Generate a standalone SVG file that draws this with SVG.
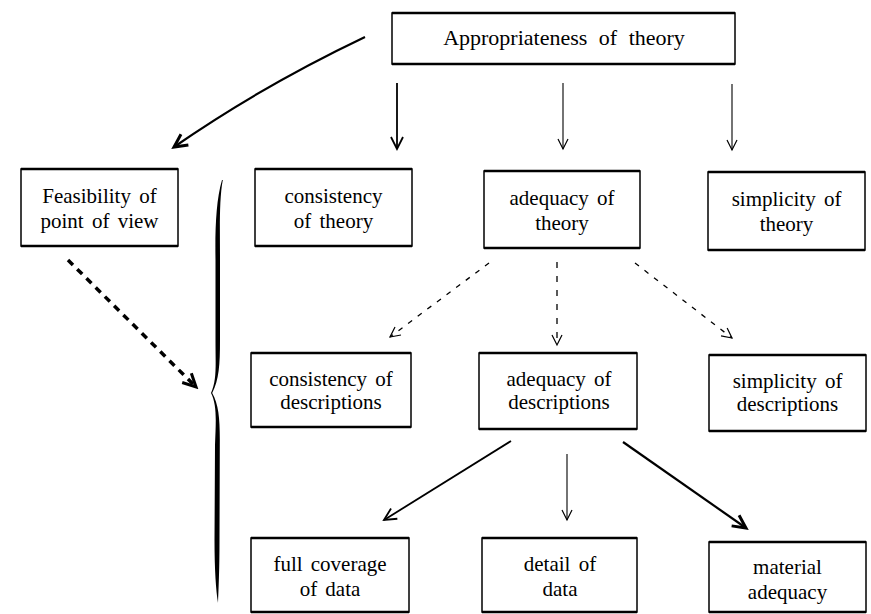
<svg xmlns="http://www.w3.org/2000/svg" width="871" height="614" viewBox="0 0 871 614">
<style>
  .box { fill: #fff; stroke: #000; stroke-width: 1.5; }
  .tb { fill: none; stroke: #000; stroke-width: 2.6; }
  .lbl { font-family: "Liberation Serif", "Tinos", "Noto Serif", "DejaVu Serif", "FreeSerif", "Nimbus Roman", "TeX Gyre Termes", "Times New Roman", Times, serif; font-size: 21px; fill: #000; text-anchor: middle; word-spacing: 3px; }
  .title { font-size: 22px; word-spacing: 6px; }
  .con { fill: none; stroke: #000; }
</style>
<defs>
  <marker id="vThin" viewBox="0 0 14 14" refX="12" refY="7" markerWidth="14" markerHeight="14" markerUnits="userSpaceOnUse" orient="auto">
    <path d="M2,2 L12,7 L2,12" fill="none" stroke="#000" stroke-width="1.2"/>
  </marker>
  <marker id="vMed" viewBox="0 0 16 16" refX="14" refY="8" markerWidth="16" markerHeight="16" markerUnits="userSpaceOnUse" orient="auto">
    <path d="M2,2 L14,8 L2,14" fill="none" stroke="#000" stroke-width="1.8"/>
  </marker>
  <marker id="vThick" viewBox="0 0 18 18" refX="15" refY="9" markerWidth="18" markerHeight="18" markerUnits="userSpaceOnUse" orient="auto">
    <path d="M2,2.5 L15,9 L2,15.5" fill="none" stroke="#000" stroke-width="3"/>
  </marker>
</defs>

<g id="connectors">
  <path class="con" d="M365,37 Q262,86 174,147" stroke-width="2.2" marker-end="url(#vThick)"/>
  <line class="con" x1="397" y1="83" x2="397" y2="149" stroke-width="1.8" marker-end="url(#vMed)"/>
  <line class="con" x1="563" y1="83" x2="563" y2="149" stroke-width="1.1" marker-end="url(#vThin)"/>
  <line class="con" x1="732" y1="84" x2="732" y2="150" stroke-width="1.1" marker-end="url(#vThin)"/>
  <line class="con" x1="68" y1="260" x2="196" y2="387" stroke-width="3.5" stroke-dasharray="7 6" marker-end="url(#vThick)"/>
  <line class="con" x1="489" y1="263" x2="390" y2="337" stroke-width="1.3" stroke-dasharray="5 7" marker-end="url(#vThin)"/>
  <line class="con" x1="557" y1="262" x2="557" y2="345" stroke-width="1.3" stroke-dasharray="6 8" marker-end="url(#vThin)"/>
  <line class="con" x1="635" y1="263" x2="732" y2="338" stroke-width="1.3" stroke-dasharray="5 7" marker-end="url(#vThin)"/>
  <line class="con" x1="511" y1="441" x2="384" y2="520" stroke-width="1.8" marker-end="url(#vMed)"/>
  <line class="con" x1="567" y1="454" x2="567" y2="520" stroke-width="1.1" marker-end="url(#vThin)"/>
  <line class="con" x1="623" y1="442" x2="746" y2="528" stroke-width="2.2" marker-end="url(#vThick)"/>
  <path id="brace" fill="#000" d="M222,180 C216,200 215,230 215.5,260 L215.5,340 C215.5,365 217,380 211,393 C217,405 216,420 215,445 L214.5,540 C214.5,570 216,590 218,603 C218.5,590 219.5,570 219.5,540 L219.8,445 C220,420 219,405 212.2,393 C219,380 220,365 220,340 L220,260 C220,230 219,200 222.8,180 Z"/>
</g>

<g id="n-top">
  <rect class="box" x="392" y="13" width="343" height="51"/>
  <path class="tb" d="M392,13 H735 M392,64 H735"/>
  <text class="lbl title" x="564" y="45">Appropriateness of theory</text>
</g>

<g id="n-feasibility">
  <rect class="box" x="21" y="169" width="157" height="77"/>
  <path class="tb" d="M21,169 H178 M21,246 H178"/>
  <text class="lbl" x="99.5" y="203">Feasibility of</text>
  <text class="lbl" x="99.5" y="228">point of view</text>
</g>
<g id="n-cons-theory">
  <rect class="box" x="255" y="169" width="157" height="77"/>
  <path class="tb" d="M255,169 H412 M255,246 H412"/>
  <text class="lbl" x="333.5" y="203">consistency</text>
  <text class="lbl" x="333.5" y="228">of theory</text>
</g>
<g id="n-adeq-theory">
  <rect class="box" x="484" y="171" width="156" height="77"/>
  <path class="tb" d="M484,171 H640 M484,248 H640"/>
  <text class="lbl" x="562" y="205">adequacy of</text>
  <text class="lbl" x="562" y="230">theory</text>
</g>
<g id="n-simp-theory">
  <rect class="box" x="708" y="172" width="157" height="78"/>
  <path class="tb" d="M708,172 H865 M708,250 H865"/>
  <text class="lbl" x="786.5" y="206">simplicity of</text>
  <text class="lbl" x="786.5" y="231">theory</text>
</g>

<g id="n-cons-desc">
  <rect class="box" x="251" y="353" width="160" height="74"/>
  <path class="tb" d="M251,353 H411 M251,427 H411"/>
  <text class="lbl" x="331" y="386">consistency of</text>
  <text class="lbl" x="331" y="409">descriptions</text>
</g>
<g id="n-adeq-desc">
  <rect class="box" x="479" y="353" width="158" height="76"/>
  <path class="tb" d="M479,353 H637 M479,429 H637"/>
  <text class="lbl" x="559" y="386">adequacy of</text>
  <text class="lbl" x="559" y="409">descriptions</text>
</g>
<g id="n-simp-desc">
  <rect class="box" x="709" y="355" width="157" height="76"/>
  <path class="tb" d="M709,355 H866 M709,431 H866"/>
  <text class="lbl" x="787.5" y="388">simplicity of</text>
  <text class="lbl" x="787.5" y="411">descriptions</text>
</g>

<g id="n-coverage">
  <rect class="box" x="251" y="538" width="158" height="74"/>
  <path class="tb" d="M251,538 H409 M251,612 H409"/>
  <text class="lbl" x="330" y="571">full coverage</text>
  <text class="lbl" x="330" y="596">of data</text>
</g>
<g id="n-detail">
  <rect class="box" x="482" y="538" width="155" height="74"/>
  <path class="tb" d="M482,538 H637 M482,612 H637"/>
  <text class="lbl" x="560" y="571">detail of</text>
  <text class="lbl" x="560" y="596">data</text>
</g>
<g id="n-material">
  <rect class="box" x="709" y="542" width="157" height="70"/>
  <path class="tb" d="M709,542 H866 M709,612 H866"/>
  <text class="lbl" x="787.5" y="574">material</text>
  <text class="lbl" x="787.5" y="599">adequacy</text>
</g>
</svg>
